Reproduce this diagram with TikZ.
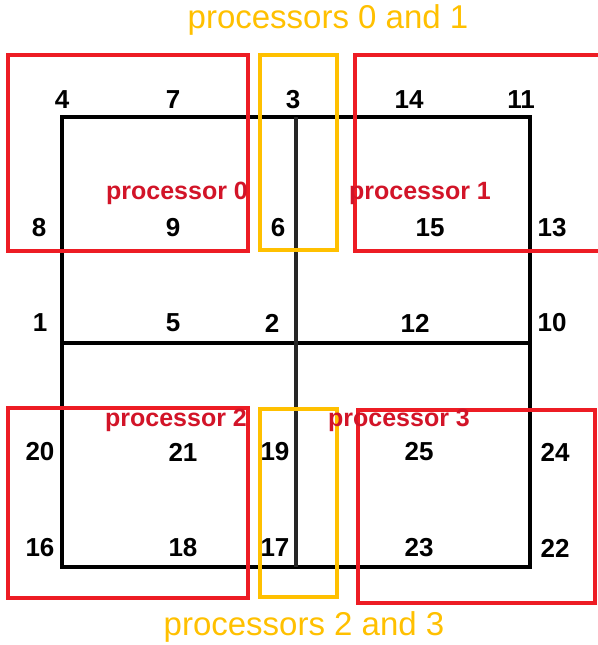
\documentclass[tikz,border=0pt]{standalone}
\usepackage{fontspec}
\setmainfont{Liberation Sans}
\definecolor{boxred}{RGB}{237,28,36}
\definecolor{txtred}{RGB}{210,20,40}
\definecolor{gold}{RGB}{255,192,0}
\begin{document}
\begin{tikzpicture}[x={(1pt,0)},y={(0,-1pt)},
  num/.style={font=\fontsize{26}{26}\selectfont\bfseries, text=black, inner sep=0pt},
  plabel/.style={font=\fontsize{25}{25}\selectfont\bfseries, text=txtred, inner sep=0pt},
  glabel/.style={font=\fontsize{33}{33}\selectfont, text=gold, inner sep=0pt},
  grid/.style={draw=black, line width=3.5pt},
  redbox/.style={draw=boxred, line width=3.5pt},
  goldbox/.style={draw=gold, line width=3.5pt}]
\useasboundingbox (0,0) rectangle (597,645);
% mesh
\draw[grid] (62,117) rectangle (530,567);
\draw[grid] (62,343) -- (530,343);
\draw[grid,draw=black!85] (296,117) -- (296,567);
% processor boxes
\draw[redbox] (8,55) rectangle (248,251);
\draw[redbox] (355,55) rectangle (610,251);
\draw[redbox] (8,408) rectangle (248,598);
\draw[redbox] (358,410) rectangle (595,603);
\draw[goldbox] (260,55) rectangle (337,250);
\draw[goldbox] (260,409) rectangle (337,597);
% labels
\node[glabel] (g01) at (328,20) {processors 0 and 1};
\node[glabel] (g23) at (304,627) {processors 2 and 3};
\node[plabel] (p0) at (177,193) {processor 0};
\node[plabel] (p1) at (420,193) {processor 1};
\node[plabel] (p2) at (176,420) {processor 2};
\node[plabel] (p3) at (399,420) {processor 3};
% node numbers
\node[num] (n4) at (62,100) {4};
\node[num] (n7) at (173,100) {7};
\node[num] (n3) at (293,100) {3};
\node[num] (n14) at (409,100) {14};
\node[num] (n11) at (521,100) {11};
\node[num] (n8) at (39,228) {8};
\node[num] (n9) at (173,228) {9};
\node[num] (n6) at (278,228) {6};
\node[num] (n15) at (430,228) {15};
\node[num] (n13) at (552,228) {13};
\node[num] (n1) at (40,323) {1};
\node[num] (n5) at (173,323) {5};
\node[num] (n2) at (272,323) {2};
\node[num] (n12) at (415,323) {12};
\node[num] (n10) at (552,323) {10};
\node[num] (n20) at (40,452) {20};
\node[num] (n21) at (183,452) {21};
\node[num] (n19) at (275,452) {19};
\node[num] (n25) at (419,452) {25};
\node[num] (n24) at (555,452) {24};
\node[num] (n16) at (40,548) {16};
\node[num] (n18) at (183,548) {18};
\node[num] (n17) at (275,548) {17};
\node[num] (n23) at (419,548) {23};
\node[num] (n22) at (555,548) {22};
\end{tikzpicture}
\end{document}
